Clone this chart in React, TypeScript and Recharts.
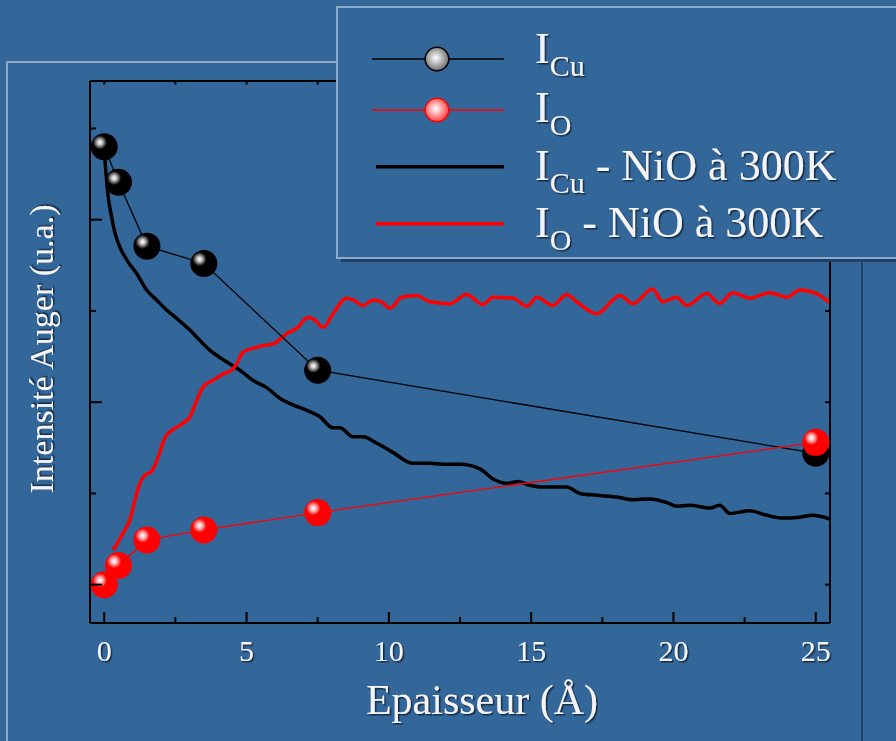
import { ComposedChart, Line, XAxis, YAxis, Legend } from "recharts";

const BG = "#336699";
const LIGHT = "#8eaacb";
const DARK = "#1f4166";
const TXT = "#f4f4f4";
const FONT = "'Liberation Serif', 'DejaVu Serif', serif";

// sample points (Å) and measured Auger intensities (arb. units)
const sphereX = [0, 0.5, 1.5, 3.5, 7.5, 25];
const iCu = [4.8, 4.41, 3.71, 3.52, 2.35, 1.44];
const iO = [0.0, 0.21, 0.49, 0.6, 0.79, 1.56];

// reference curves, NiO at 300K
const cuNiOX = [
  0, 0.14, 0.26, 0.38, 0.55, 0.79, 1.14, 1.49, 1.84, 2.19, 2.54, 3.01, 3.26, 3.71, 4.31, 4.77,
  5.22, 5.71, 6.18, 6.63, 7.12, 7.58, 8.03, 8.28, 8.74, 9.09, 9.58, 10.14, 10.84, 11.44, 11.9,
  12.5, 13.2, 13.65, 14.14, 14.53, 14.95, 15.41, 16.25, 16.71, 17.31, 18.01, 18.57, 19.17,
  19.77, 20.12, 20.57, 21.28, 21.63, 21.98, 22.68, 23.28, 23.84, 24.44, 24.89, 25.49,
];
const cuNiOY = [
  4.76, 4.25, 4.03, 3.85, 3.7, 3.56, 3.41, 3.23, 3.12, 3.01, 2.92, 2.79, 2.71, 2.57, 2.44, 2.35,
  2.24, 2.16, 2.04, 1.97, 1.91, 1.84, 1.72, 1.72, 1.62, 1.62, 1.55, 1.45, 1.33, 1.33, 1.32,
  1.32, 1.27, 1.16, 1.11, 1.13, 1.09, 1.07, 1.07, 1.0, 0.98, 0.96, 0.93, 0.94,
  0.9, 0.86, 0.87, 0.84, 0.87, 0.78, 0.81, 0.76, 0.73, 0.74, 0.76, 0.72,
];
const oNiOX = [
  0.32, 0.67, 0.9, 1.08, 1.25, 1.43, 1.66, 1.9, 2.13, 2.37, 2.77, 3.01, 3.25, 3.48, 3.83, 4.18,
  4.47, 4.65, 4.88, 5.23, 5.58, 5.94, 6.41, 6.76, 7.17, 7.4, 7.69, 8.04, 8.51, 8.75, 9.1, 9.45,
  9.74, 10.04, 10.45, 10.97, 11.44, 12.14, 12.73, 13.31, 13.66, 14.37, 14.85, 15.2, 15.76,
  16.25, 16.6, 17.3, 18.12, 18.57, 19.27, 19.62, 20.11, 20.47, 21.17, 21.62, 22.08, 22.68,
  23.38, 23.98, 24.44, 25.03, 25.49,
];
const oNiOY = [
  0.38, 0.57, 0.71, 0.93, 1.11, 1.2, 1.24, 1.4, 1.61, 1.69, 1.77, 1.84, 2.02, 2.17, 2.24, 2.31,
  2.35, 2.42, 2.55, 2.59, 2.62, 2.64, 2.75, 2.81, 2.93, 2.9, 2.82, 2.97, 3.14, 3.12, 3.06, 3.12,
  3.1, 3.03, 3.15, 3.17, 3.1, 3.08, 3.18, 3.07, 3.15, 3.14, 3.05, 3.15, 3.06,
  3.18, 3.1, 2.97, 3.17, 3.08, 3.24, 3.1, 3.15, 3.06, 3.19, 3.08, 3.2, 3.14,
  3.2, 3.15, 3.23, 3.19, 3.09,
];

const xTicks = [0, 2.5, 5, 7.5, 10, 12.5, 15, 17.5, 20, 22.5, 25];
const yTicks = [0, 1, 2, 3, 4, 5];

const rows = (xs: number[], ys: number[]) => xs.map((x, i) => ({ x, y: ys[i] }));
const cuData = rows(sphereX, iCu);
const oData = rows(sphereX, iO);
const cuNiO = rows(cuNiOX, cuNiOY);
const oNiO = rows(oNiOX, oNiOY);

const Sphere = ({ cx, cy, grad }: any) => {
  if (cx == null || cy == null) return null;
  return <circle cx={cx} cy={cy} r={13.5} fill={`url(#${grad})`} />;
};

const BottomTick = ({ x, y, payload }: any) => {
  const v = payload.value;
  const major = v % 5 === 0;
  return (
    <g>
      <line x1={x} x2={x} y1={y} y2={y - (major ? 11 : 6)} stroke="#000" strokeWidth={2} />
      {major && (
        <text x={x} y={y + 37.5} textAnchor="middle" fontSize={30} fill={TXT} fontFamily={FONT} filter="url(#tshadow)">
          {v}
        </text>
      )}
    </g>
  );
};

const TopTick = ({ x, y }: any) => (
  <line x1={x} x2={x} y1={y} y2={y + 3.5} stroke="#000" strokeWidth={2} />
);

const LeftTick = ({ x, y, payload }: any) => (
  <line x1={x} x2={x + (payload.value % 2 === 0 ? 12 : 6)} y1={y} y2={y} stroke="#000" strokeWidth={2} />
);

const RightTick = ({ x, y }: any) => (
  <line x1={x} x2={x - 5} y1={y} y2={y} stroke="#000" strokeWidth={2} />
);

const legendRows = [
  { sub: "Cu", rest: "" },
  { sub: "O", rest: "" },
  { sub: "Cu", rest: " - NiO à 300K" },
  { sub: "O", rest: " - NiO à 300K" },
];
const rowLineY = [59, 110, 166.7, 223.7];
const rowTextY = [63.3, 121.7, 180, 236.7];

const LegendBox = () => (
  <svg width={896} height={270} style={{ display: "block" }}>
    <rect x={341} y={11} width={600} height={251} fill={DARK} />
    <rect x={337} y={7} width={600} height={251} fill={BG} stroke={LIGHT} strokeWidth={2} />
    <line x1={372} x2={504} y1={rowLineY[0]} y2={rowLineY[0]} stroke="#000" strokeWidth={1.5} />
    <circle cx={437} cy={rowLineY[0]} r={11.8} fill="url(#lgGray)" stroke="#000" strokeWidth={1.5} />
    <line x1={372} x2={504} y1={rowLineY[1]} y2={rowLineY[1]} stroke="#ff0000" strokeWidth={1.5} />
    <circle cx={437} cy={rowLineY[1]} r={11.8} fill="url(#lgRed)" stroke="#ff0000" strokeWidth={1.5} />
    <line x1={376} x2={504} y1={rowLineY[2]} y2={rowLineY[2]} stroke="#000" strokeWidth={3.5} />
    <line x1={376} x2={504} y1={rowLineY[3]} y2={rowLineY[3]} stroke="#ff0000" strokeWidth={3.5} />
    {legendRows.map((r, i) => (
      <text key={i} x={535} y={rowTextY[i]} fontSize={44} fill={TXT} fontFamily={FONT} filter="url(#tshadow)">
        I
        <tspan fontSize={30} dy={13}>
          {r.sub}
        </tspan>
        {r.rest && <tspan dy={-13}>{r.rest}</tspan>}
      </text>
    ))}
  </svg>
);

export default function App() {
  return (
    <div
      style={{
        position: "absolute",
        left: 0,
        top: 0,
        width: 896,
        height: 741,
        background: BG,
        overflow: "hidden",
        fontFamily: FONT,
      }}
    >
      <svg width={0} height={0} style={{ position: "absolute" }}>
        <defs>
          <radialGradient id="gBlack" cx="0.34" cy="0.34" r="0.26">
            <stop offset="0" stopColor="#ffffff" />
            <stop offset="0.3" stopColor="#d0d0d0" />
            <stop offset="0.6" stopColor="#7a7a7a" />
            <stop offset="1" stopColor="#000000" />
          </radialGradient>
          <radialGradient id="gRed" cx="0.34" cy="0.34" r="0.26">
            <stop offset="0" stopColor="#ffffff" />
            <stop offset="0.3" stopColor="#ffd0d0" />
            <stop offset="0.6" stopColor="#ff8080" />
            <stop offset="1" stopColor="#ff0000" />
          </radialGradient>
          <radialGradient id="lgGray" cx="0.45" cy="0.45" r="0.55">
            <stop offset="0" stopColor="#ffffff" />
            <stop offset="1" stopColor="#6e6e6e" />
          </radialGradient>
          <radialGradient id="lgRed" cx="0.45" cy="0.45" r="0.55">
            <stop offset="0" stopColor="#ffffff" />
            <stop offset="1" stopColor="#ff4040" />
          </radialGradient>
          <filter id="tshadow" x="-10%" y="-10%" width="130%" height="140%">
            <feDropShadow dx="1.5" dy="1.5" stdDeviation="0.6" floodColor="#0c1f36" floodOpacity="0.85" />
          </filter>
        </defs>
      </svg>
      <div
        style={{
          position: "absolute",
          left: 6,
          top: 61,
          width: 857,
          height: 800,
          borderLeft: `2px solid ${LIGHT}`,
          borderTop: `2px solid ${LIGHT}`,
          borderRight: `2px solid ${DARK}`,
          boxSizing: "border-box",
        }}
      />
      <ComposedChart width={896} height={741} margin={{ top: 80, right: 65, bottom: 117, left: 89 }}>
        <XAxis
          xAxisId="b"
          type="number"
          dataKey="x"
          domain={[-0.5, 25.5]}
          allowDataOverflow
          ticks={xTicks}
          interval={0}
          height={1}
          tickSize={0}
          tickMargin={0}
          tickLine={false}
          tick={BottomTick}
          axisLine={{ stroke: "#000", strokeWidth: 2 }}
          label={{
            content: ({ viewBox }: any) => (
              <text
                x={viewBox.x + viewBox.width / 2 + 22}
                y={viewBox.y + 90.5}
                textAnchor="middle"
                fontSize={42}
                fill={TXT}
                fontFamily={FONT}
                filter="url(#tshadow)"
              >
                Epaisseur (Å)
              </text>
            ),
          }}
        />
        <XAxis
          xAxisId="t"
          orientation="top"
          type="number"
          dataKey="x"
          domain={[-0.5, 25.5]}
          allowDataOverflow
          ticks={xTicks}
          interval={0}
          height={1}
          tickSize={0}
          tickMargin={0}
          tickLine={false}
          tick={TopTick}
          axisLine={{ stroke: "#000", strokeWidth: 2 }}
        />
        <YAxis
          yAxisId="l"
          type="number"
          domain={[-0.42, 5.52]}
          allowDataOverflow
          ticks={yTicks}
          interval={0}
          width={1}
          tickSize={0}
          tickMargin={0}
          tickLine={false}
          tick={LeftTick}
          axisLine={{ stroke: "#000", strokeWidth: 2 }}
          label={{
            content: ({ viewBox }: any) => {
              const cx = viewBox.x - 36;
              const cy = viewBox.y + viewBox.height / 2 - 3;
              return (
                <text
                  x={cx}
                  y={cy}
                  transform={`rotate(-90 ${cx} ${cy})`}
                  textAnchor="middle"
                  fontSize={34}
                  fill={TXT}
                  fontFamily={FONT}
                  filter="url(#tshadow)"
                >
                  Intensité Auger (u.a.)
                </text>
              );
            },
          }}
        />
        <YAxis
          yAxisId="r"
          orientation="right"
          type="number"
          domain={[-0.42, 5.52]}
          allowDataOverflow
          ticks={yTicks}
          interval={0}
          width={1}
          tickSize={0}
          tickMargin={0}
          tickLine={false}
          tick={RightTick}
          axisLine={{ stroke: "#000", strokeWidth: 2 }}
        />
        <Line
          xAxisId="b"
          yAxisId="l"
          data={cuNiO}
          dataKey="y"
          type="monotone"
          stroke="#000"
          strokeWidth={3.5}
          dot={false}
          activeDot={false}
          isAnimationActive={false}
        />
        <Line
          xAxisId="b"
          yAxisId="l"
          data={oNiO}
          dataKey="y"
          type="monotone"
          stroke="#ff0000"
          strokeWidth={3.5}
          dot={false}
          activeDot={false}
          isAnimationActive={false}
        />
        <Line
          xAxisId="b"
          yAxisId="l"
          data={cuData}
          dataKey="y"
          type="linear"
          stroke="#000"
          strokeWidth={1.3}
          dot={(p: any) => <Sphere key={`cu-${p.index}`} cx={p.cx} cy={p.cy} grad="gBlack" />}
          activeDot={false}
          isAnimationActive={false}
        />
        <Line
          xAxisId="b"
          yAxisId="l"
          data={oData}
          dataKey="y"
          type="linear"
          stroke="#ff0000"
          strokeWidth={1.3}
          dot={(p: any) => <Sphere key={`o-${p.index}`} cx={p.cx} cy={p.cy} grad="gRed" />}
          activeDot={false}
          isAnimationActive={false}
        />
        <Legend
          layout="vertical"
          align="center"
          verticalAlign="middle"
          wrapperStyle={{ left: 0, top: 0, width: 896, height: 270 }}
          content={() => <LegendBox />}
        />
      </ComposedChart>
    </div>
  );
}
